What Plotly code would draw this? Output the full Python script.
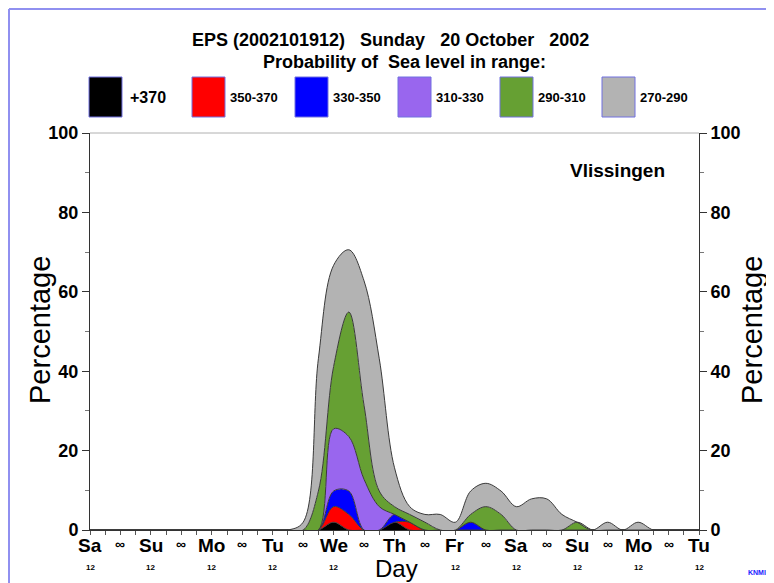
import plotly.graph_objects as go

# ---------------- data (6-hourly, hours after Sat 12 UTC) ----------------
hours = list(range(0, 241, 6))
day_labels = ["Sa", "Su", "Mo", "Tu", "We", "Th", "Fr", "Sa", "Su", "Mo", "Tu"]
day_hours = list(range(0, 241, 24))
hour_label_hours = [0, 24, 48, 72, 96, 144, 168, 192, 216, 240]   # the one under Th is hidden by "Day"
mid_hours = list(range(12, 240, 24))
series_names = ["+370", "350-370", "330-350", "310-330", "290-310", "270-290"]
series_colors = ["#000000", "#ff0000", "#0000ff", "#9966ee", "#66a033", "#b3b3b3"]

#            0   6  12  18  24  30  36  42  48  54  60  66  72  78  84    90     96     102    108    114    120   126   132   138   144   150   156   162   168   174   180   186   192   198  204   210  216   222 228 234 240
p_370     = [0,  0,  0,  0,  0,  0,  0,  0,  0,  0,  0,  0,  0,  0,  0,    0,     1.96,  0,     0,     0,     1.96, 0,    0,    0,    0,    0,    0,    0,    0,    0,    0,    0,    0,    0,   0,    0,   0,    0,  0,  0,  0]
p_350_370 = [0,  0,  0,  0,  0,  0,  0,  0,  0,  0,  0,  0,  0,  0,  0,    0,     3.92,  3.92,  0,     0,     0,    1.96, 0,    0,    0,    0,    0,    0,    0,    0,    0,    0,    0,    0,   0,    0,   0,    0,  0,  0,  0]
p_330_350 = [0,  0,  0,  0,  0,  0,  0,  0,  0,  0,  0,  0,  0,  0,  0,    0,     3.92,  5.88,  0,     0,     1.96, 0,    0,    0,    0,    1.96, 0,    0,    0,    0,    0,    0,    0,    0,   0,    0,   0,    0,  0,  0,  0]
p_310_330 = [0,  0,  0,  0,  0,  0,  0,  0,  0,  0,  0,  0,  0,  0,  0,    0,     15.69, 13.73, 12.75, 5.88,  0,    0,    0,    0,    0,    0,    0,    0,    0,    0,    0,    0,    0,    0,   0,    0,   0,    0,  0,  0,  0]
p_290_310 = [0,  0,  0,  0,  0,  0,  0,  0,  0,  0,  0,  0,  0,  0,  0,    9.80,  15.69, 31.37, 18.63, 3.92,  1.96, 1.96, 1.96, 0,    0,    1.96, 5.88, 3.92, 0,    0,    0,    0,    1.96, 0,   0,    0,   0,    0,  0,  0,  0]
p_270_290 = [0,  0,  0,  0,  0,  0,  0,  0,  0,  0,  0,  0,  0,  0,  1.96, 33.33, 25.49, 15.69, 31.37, 33.33, 9.80, 1.96, 1.96, 3.92, 1.96, 5.88, 5.88, 5.88, 5.88, 7.84, 7.84, 3.92, 0,    0,   1.96, 0,   1.96, 0,  0,  0,  0]
series_values = [p_370, p_350_370, p_330_350, p_310_330, p_290_310, p_270_290]

# ---------------- geometry (page pixels; figure sits 8px into the page) ----------------
OFF = 8
PW, PH = 774, 583
L, R, T, B = 90, 699, 133, 530          # plot area in page pixels
W, H = PW - OFF, PH - OFF               # figure size
def px(x):
    return (x - L) / (R - L)
def py(y):
    return (B - y) / (B - T)

FONT = "Liberation Sans, Arial, sans-serif"

fig = go.Figure()
for name, vals, col in zip(series_names, series_values, series_colors):
    fig.add_trace(go.Scatter(
        x=hours, y=vals, name=name, stackgroup="one", mode="lines",
        line=dict(color="#3a3a3a", width=1, shape="spline", smoothing=1.0),
        fillcolor=col, showlegend=False, hoverinfo="skip",
    ))
# dummy trace so the right axis is drawn
fig.add_trace(go.Scatter(x=[0], y=[0], yaxis="y2", mode="none", showlegend=False, hoverinfo="skip"))

anns = []
shapes = []

nb = "\u00a0"
anns.append(dict(text=f"<b>EPS{nb}(2002101912){nb*3}Sunday{nb*3}20{nb}October{nb*3}2002</b>",
                 x=px(390), y=py(40), xref="paper", yref="paper", showarrow=False,
                 font=dict(family=FONT, size=18, color="black"), xanchor="center", yanchor="middle"))
anns.append(dict(text=f"<b>Probability{nb}of{nb*2}Sea{nb}level{nb}in{nb}range:</b>",
                 x=px(404), y=py(62), xref="paper", yref="paper", showarrow=False,
                 font=dict(family=FONT, size=18, color="black"), xanchor="center", yanchor="middle"))

# legend boxes
box_left = [89, 192, 295, 398, 500, 602]
for i, (name, col) in enumerate(zip(series_names, series_colors)):
    x0 = box_left[i]
    shapes.append(dict(type="rect", xref="paper", yref="paper",
                       x0=px(x0), x1=px(x0 + 33), y0=py(117), y1=py(77),
                       fillcolor=col, line=dict(color="#7070e0", width=1), layer="above"))
    anns.append(dict(text=f"<b>{name}</b>", x=px(x0 + 36 if i else x0 + 39), y=py(98), xref="paper", yref="paper",
                     showarrow=False, xanchor="left", yanchor="middle",
                     font=dict(family=FONT, size=(16 if i == 0 else 13), color="black")))

# x axis labels
for h, d in zip(day_hours, day_labels):
    anns.append(dict(text=f"<b>{d}</b>", x=h, y=py(545), xref="x", yref="paper", showarrow=False,
                     xanchor="center", yanchor="middle", font=dict(family=FONT, size=19, color="black")))
for h in hour_label_hours:
    anns.append(dict(text="<b>12</b>", x=h, y=py(567), xref="x", yref="paper", showarrow=False,
                     xanchor="center", yanchor="middle", font=dict(family=FONT, size=8, color="black")))
for h in mid_hours:
    anns.append(dict(text="<b>∞</b>", x=h, y=py(544), xref="x", yref="paper", showarrow=False,
                     xanchor="center", yanchor="middle", font=dict(family=FONT, size=14, color="black")))

anns.append(dict(text="Day", x=px(396), y=py(568), xref="paper", yref="paper", showarrow=False,
                 xanchor="center", yanchor="middle", font=dict(family=FONT, size=24, color="black")))
anns.append(dict(text="Percentage", x=px(40), y=py(330), xref="paper", yref="paper", showarrow=False,
                 textangle=-90, xanchor="center", yanchor="middle", font=dict(family=FONT, size=29, color="black")))
anns.append(dict(text="Percentage", x=px(752), y=py(330), xref="paper", yref="paper", showarrow=False,
                 textangle=-90, xanchor="center", yanchor="middle", font=dict(family=FONT, size=29, color="black")))
anns.append(dict(text="<b>Vlissingen</b>", x=px(617), y=py(170), xref="paper", yref="paper", showarrow=False,
                 xanchor="center", yanchor="middle", font=dict(family=FONT, size=19, color="black")))
anns.append(dict(text="<b>KNMI</b>", x=px(757), y=py(572), xref="paper", yref="paper", showarrow=False,
                 xanchor="center", yanchor="middle", font=dict(family=FONT, size=7, color="#2020ff")))

# plot top border & outer frame
shapes.append(dict(type="line", xref="paper", yref="paper", x0=0, x1=1, y0=1, y1=1,
                   line=dict(color="#b0b0b0", width=1)))
shapes.append(dict(type="line", xref="paper", yref="paper", x0=px(9), x1=px(774), y0=py(9), y1=py(9),
                   line=dict(color="#9090f0", width=2)))
shapes.append(dict(type="line", xref="paper", yref="paper", x0=px(9), x1=px(9), y0=py(9), y1=py(583),
                   line=dict(color="#9090f0", width=2)))

yax = dict(range=[0, 100], tickvals=[0, 20, 40, 60, 80, 100], ticks="outside", ticklen=7,
           tickwidth=1, tickcolor="#333", showline=True, linecolor="#333", linewidth=1,
           showgrid=False, zeroline=False, fixedrange=True,
           tickfont=dict(family=FONT, size=18, color="black", weight="bold"),
           minor=dict(tickvals=[10, 30, 50, 70, 90], ticks="outside", ticklen=4, tickcolor="#777"))

fig.update_layout(
    width=W, height=H,
    margin=dict(l=L - OFF, r=PW - R, t=T - OFF, b=PH - B),
    paper_bgcolor="white", plot_bgcolor="white",
    showlegend=False,
    xaxis=dict(range=[0, 240], tickvals=hours, ticks="outside", ticklen=4, tickcolor="#555",
               showticklabels=False, showline=True, linecolor="#333", linewidth=1,
               showgrid=False, zeroline=False),
    yaxis=yax,
    yaxis2=dict(yax, overlaying="y", side="right", anchor="x"),
    annotations=anns, shapes=shapes,
)

fig.write_html("out.html")
